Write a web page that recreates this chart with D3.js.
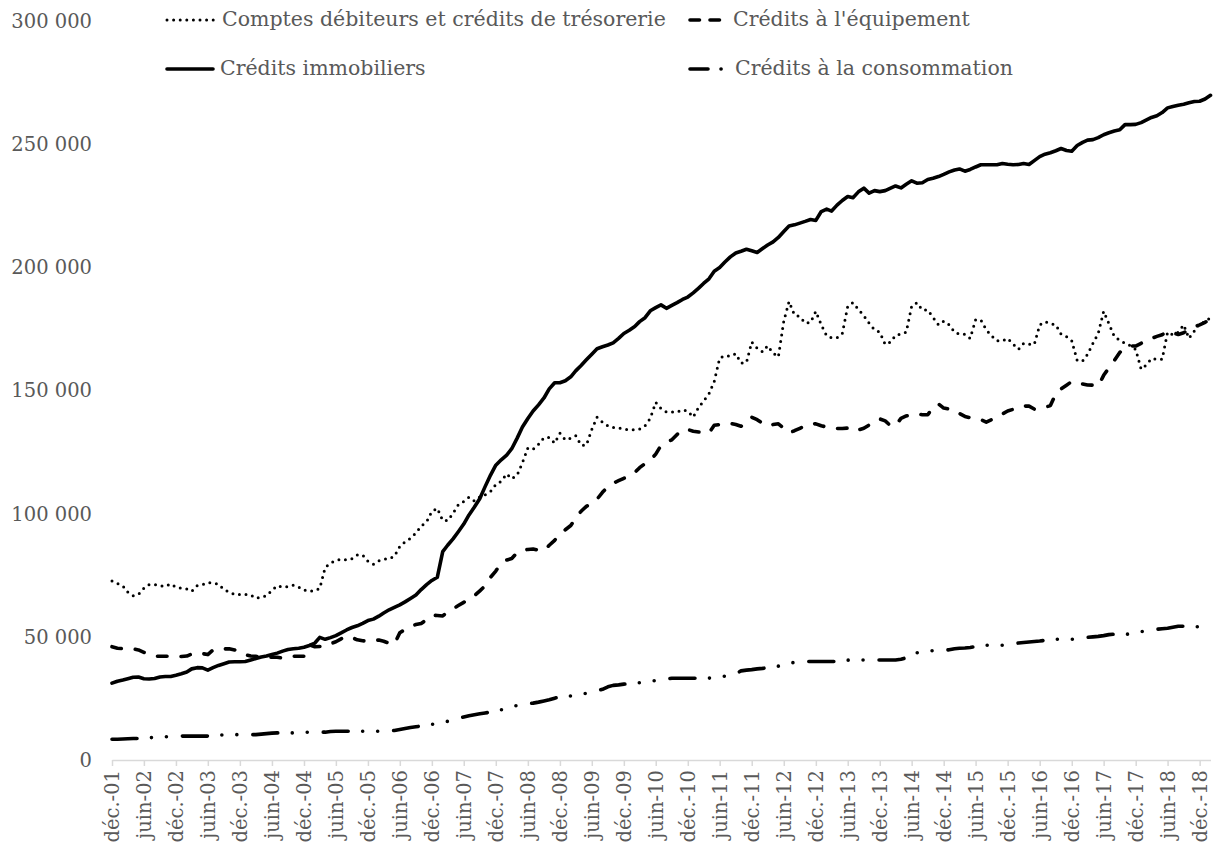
<!DOCTYPE html>
<html>
<head>
<meta charset="utf-8">
<script src="https://cdn.jsdelivr.net/npm/d3@7"></script>
<style>
  body { margin: 0; background: #fff; }
  svg text { font-family: "DejaVu Serif", serif; fill: #595959; }
</style>
</head>
<body>
<svg width="1216" height="847"></svg>
<script>
// monthly outstanding amounts, in thousands, from Dec 2001 to Feb 2019
const tresorerie = [
  72.5, 71.5, 70.5, 68, 66.5, 67, 69.5, 71, 71, 70.5, 70.3, 71.3,
  70, 69.5, 69.2, 68.3, 70.6, 71, 71.8, 71.6, 71.2, 69, 68, 67,
  67, 67, 66.8, 65.5, 66, 66.5, 68.7, 70.6, 70, 70.2, 70.8, 70,
  68.8, 68.3, 68.6, 69.5, 78, 79.8, 80.8, 81.3, 81, 81.5, 83, 83,
  80.5, 79.3, 80.7, 81.3, 81.5, 82.5, 86.5, 88.4, 89.8, 92, 94.8, 96.5,
  100.8, 102, 97, 97, 100, 103.4, 104.8, 106.5, 105, 106.6, 107.5, 108.8,
  111.6, 113, 116, 114, 115.5, 120.5, 126.5, 126, 128, 130.7, 130.8, 128.5,
  132.5, 129.8, 130.5, 131.5, 127.6, 127.6, 134, 139, 137, 135.5, 134.8, 134.6,
  134.2, 133.9, 133.9, 134.2, 135.5, 138.5, 145, 142.5, 141.1, 141.1, 141.1, 142,
  141.5, 139, 143, 145.5, 148.5, 153.5, 163, 164, 163.8, 164.8, 161, 161.2,
  169.5, 167, 165.5, 168, 165, 163.5, 178, 186, 180.5, 179.8, 177.2, 177.5,
  182, 176.5, 172, 171.3, 171.3, 173, 184, 185.5, 182.8, 180.2, 177.2, 174.5,
  173.5, 168.5, 169.5, 172.3, 172.7, 173.5, 184, 185.5, 182.5, 182.5, 179.5, 176.5,
  178, 176.5, 173.5, 172.7, 172.7, 171, 178.5, 178.5, 174.5, 172, 170, 170,
  171, 168.7, 166.6, 169, 168.6, 168.5, 176.5, 177.8, 177, 176.5, 172.7, 171.7,
  170, 162, 161.8, 164.5, 169, 173, 182, 177, 171.8, 170.2, 169, 168,
  166.5, 158.5, 160.3, 162.8, 162.5, 162.5, 173.5, 172.5, 173.5, 176.5, 171, 174,
  177, 177.6, 179.5
];

const equipement = [
  45.8, 45.2, 45, 44.9, 44.9, 44.5, 43.5, 42.8, 42, 41.9, 41.9, 41.9,
  41.9, 41.8, 42, 42.8, 43.3, 43, 42.6, 44.5, 45, 44.9, 45, 44.5,
  43.3, 42.5, 42, 41.9, 41.7, 41.6, 41.5, 41.5, 41.2, 41.6, 41.9, 41.9,
  41.9, 46.5, 45.8, 45.9, 45.9, 47, 47.8, 49, 50, 49.5, 48.6, 48.2,
  48, 48.3, 48.5, 48, 47.2, 46.8, 51.5, 52.8, 54, 54.8, 55.2, 56.8,
  58.6, 58.5, 58.3, 60, 61.2, 62.5, 63.8, 65.3, 66.5, 68.5, 70.5, 74,
  76.5, 79.8, 81, 81.6, 84, 85, 85.3, 85.5, 85, 84.8, 87, 89,
  91.5, 93.3, 95, 98, 100.8, 102.8, 104, 105.7, 108.5, 110.8, 112.2, 113.2,
  114.2, 115, 116.5, 118.5, 120.2, 121.5, 124, 127.5, 128.8, 129.8, 132, 134,
  134, 133.3, 133, 132.8, 132.6, 135.7, 136, 136.3, 136.5, 136, 135.3, 137,
  139, 138, 136.5, 135.4, 136, 136.3, 134.5, 132.6, 133.5, 134.5, 135.5, 136.3,
  136.3, 135.5, 135, 134.6, 134.4, 134.4, 134.6, 133.3, 133.8, 134.5, 135.8, 137,
  138.3, 137.5, 135.5, 135.5, 138.5, 139.5, 140, 140.3, 140, 140, 143, 144.4,
  142.7, 142.3, 142, 140.5, 139.3, 138.8, 138.6, 138, 137, 138, 139.3, 140.3,
  141.5, 142.2, 142.5, 143.5, 143.5, 142.3, 142.5, 143, 143.7, 148.5, 150.5, 152,
  153.5, 153, 152.5, 152.1, 152, 151.6, 156, 159, 162, 165.3, 167, 167.9,
  167.9, 169, 170, 171, 171.8, 172.5, 173.8, 173.3, 172.6, 173.3, 174.5, 175.8,
  176.5, 177.5, 179
];

const immobiliers = [
  31, 31.8, 32.3, 32.8, 33.4, 33.5, 32.8, 32.7, 32.9, 33.5, 33.7, 33.7,
  34.2, 34.8, 35.5, 36.8, 37.3, 37.2, 36.3, 37.3, 38.2, 38.9, 39.6, 39.7,
  39.7, 39.8, 40.4, 41, 41.6, 42, 42.6, 43.2, 44, 44.7, 45, 45.2,
  45.6, 46.3, 47.3, 49.6, 48.8, 49.5, 50.3, 51.4, 52.6, 53.6, 54.3, 55.3,
  56.4, 57, 58.2, 59.5, 60.8, 61.8, 62.8, 64, 65.4, 66.8, 69, 71,
  72.7, 74, 84.4, 87, 89.6, 92.5, 95.6, 99.3, 102.5, 106, 110.8, 115.5,
  119.5, 121.7, 123.6, 126.2, 130.5, 135, 138.5, 141.5, 144, 146.8, 150.5, 153,
  153, 153.8, 155.4, 157.8, 160, 162.3, 164.6, 166.8, 167.6, 168.3, 169.2, 171,
  173, 174.3, 175.8, 177.8, 179.4, 182.2, 183.5, 184.6, 183.2, 184.4, 185.5, 186.8,
  187.8, 189.5, 191.4, 193.3, 195.2, 198.3, 199.8, 202, 204.1, 205.7, 206.4, 207.2,
  206.6, 205.9, 207.5, 208.9, 210.2, 212, 214.4, 216.6, 217.1, 217.8, 218.5, 219.3,
  218.9, 222.5, 223.5, 222.7, 225.1, 227, 228.6, 228.1, 230.5, 232, 230, 231,
  230.6, 231, 232, 232.9, 232.1, 233.6, 235, 234, 234.2, 235.5, 236, 236.7,
  237.6, 238.6, 239.4, 239.8, 238.9, 239.6, 240.6, 241.5, 241.5, 241.5, 241.5, 242,
  241.7, 241.5, 241.6, 242, 241.6, 243.2, 244.8, 245.8, 246.4, 247.2, 248.1, 247.3,
  247, 249.3, 250.6, 251.5, 251.7, 252.5, 253.7, 254.5, 255.2, 255.7, 257.8, 257.8,
  257.9, 258.6, 259.7, 260.7, 261.4, 262.7, 264.6, 265.2, 265.7, 266.1, 266.7, 267.2,
  267.3, 268.2, 269.7
];

const consommation = [
  8.2, 8.2, 8.3, 8.4, 8.5, 8.5, 8.6, 8.8, 9, 9.2, 9.2, 9.3,
  9.4, 9.5, 9.5, 9.5, 9.5, 9.5, 9.5, 9.6, 9.8, 10, 10.1, 10.1,
  10.1, 10.1, 10.1, 10.1, 10.3, 10.5, 10.7, 10.8, 10.8, 10.8, 10.8, 10.8,
  11, 11.1, 11.1, 11.1, 11.1, 11.4, 11.5, 11.5, 11.5, 11.5, 11.5, 11.5,
  11.5, 11.5, 11.5, 11.5, 11.5, 11.8, 12.2, 12.6, 13, 13.3, 13.6, 14,
  14.3, 14.6, 15, 15.5, 15.9, 16.6, 17.3, 17.8, 18.2, 18.6, 18.9, 19.2,
  19.6, 20.2, 20.7, 21.3, 22, 22.5, 22.7, 22.9, 23.3, 23.8, 24.3, 24.9,
  25.4, 25.6, 25.8, 26, 26.5, 26.9, 27.3, 27.9, 28.5, 29.5, 30.1, 30.3,
  30.6, 30.8, 31, 31.2, 31.4, 31.6, 32.1, 32.4, 32.7, 33, 33, 33,
  33, 33, 33, 33, 33, 33.5, 33.6, 33.8, 34, 34.8, 36, 36.3,
  36.5, 36.8, 37, 37.3, 37.6, 37.9, 38.3, 38.9, 39.5, 39.8, 39.8, 39.8,
  39.8, 39.8, 39.8, 39.8, 39.8, 39.8, 40.3, 40.7, 40.6, 40.4, 40.4, 40.4,
  40.4, 40.4, 40.4, 40.4, 40.7, 41.3, 42.3, 43.3, 43.7, 44, 44.2, 44.2,
  44.2, 44.6, 45, 45.2, 45.3, 45.5, 45.8, 46.1, 46.4, 46.4, 46.4, 46.4,
  46.7, 47, 47.3, 47.5, 47.7, 47.9, 48.1, 48.4, 48.6, 48.8, 48.8, 48.8,
  48.8, 49.1, 49.4, 49.6, 49.8, 50, 50.3, 50.7, 50.9, 50.9, 50.9, 50.9,
  51.4, 51.9, 52.2, 52.6, 52.9, 53.1, 53.3, 53.7, 54.1, 54.1, 54, 53.9,
  53.9, 54, 54.1
];

const xTickLabels = [
  "déc.-01", "juin-02", "déc.-02", "juin-03", "déc.-03", "juin-04", "déc.-04",
  "juin-05", "déc.-05", "juin-06", "déc.-06", "juin-07", "déc.-07", "juin-08",
  "déc.-08", "juin-09", "déc.-09", "juin-10", "déc.-10", "juin-11", "déc.-11",
  "juin-12", "déc.-12", "juin-13", "déc.-13", "juin-14", "déc.-14", "juin-15",
  "déc.-15", "juin-16", "déc.-16", "juin-17", "déc.-17", "juin-18", "déc.-18"
];
const yTicks = [0, 50, 100, 150, 200, 250, 300];

const svg = d3.select("svg");

const firstMonth = new Date(2001, 11, 1);
const months = tresorerie.map((_, i) => d3.timeMonth.offset(firstMonth, i));

const x = d3.scaleTime()
  .domain([months[0], months[months.length - 1]])
  .range([112, 1210.5]);
const y = d3.scaleLinear().domain([0, 300]).range([759.5, 20.7]);

const fr = d3.formatLocale({ decimal: ",", thousands: "\u00a0", grouping: [3], currency: ["", " €"] });
const fmt = fr.format(",d");

// y axis: labels only
const yAxis = svg.append("g")
  .attr("transform", "translate(112,0)")
  .call(d3.axisLeft(y).tickValues(yTicks).tickSize(0).tickPadding(20).tickFormat((d) => fmt(d * 1000)));
yAxis.select(".domain").remove();
yAxis.selectAll("text")
  .attr("font-family", "DejaVu Serif")
  .attr("font-size", "19.5px")
  .attr("fill", "#595959")
  .attr("dy", "0.35em");

// x axis, one tick every 6 months
const tickDates = months.filter((d, i) => i % 6 === 0).slice(0, xTickLabels.length);
const xAxis = svg.append("g")
  .attr("transform", "translate(0,760)")
  .call(d3.axisBottom(x).tickValues(tickDates).tickSize(6).tickSizeOuter(0)
    .tickFormat((d, i) => xTickLabels[i]));
xAxis.select(".domain").attr("stroke", "#d9d9d9").attr("stroke-width", 1.5);
xAxis.selectAll(".tick line").attr("stroke", "#d9d9d9").attr("stroke-width", 1.5);
xAxis.selectAll("text")
  .attr("font-family", "DejaVu Serif")
  .attr("font-size", "19.5px")
  .attr("fill", "#595959")
  .attr("text-anchor", "end")
  .attr("transform", "rotate(-90)")
  .attr("x", -10)
  .attr("y", 0)
  .attr("dy", "0.35em");

const line = d3.line()
  .x((d, i) => x(months[i]))
  .y((d) => y(d));

const series = [
  { name: "Comptes débiteurs et crédits de trésorerie", values: tresorerie,
    width: 3, dash: "0 6.6", legendDash: "0 6.6" },
  { name: "Crédits à l'équipement", values: equipement,
    width: 3.6, dash: "9.5 14", legendDash: "9.5 10.5" },
  { name: "Crédits immobiliers", values: immobiliers,
    width: 3.6, dash: null, legendDash: null },
  { name: "Crédits à la consommation", values: consommation,
    width: 3.6, dash: "25 14.5 0 15 0 16", legendDash: "18 13 0.1 100" }
];

svg.append("g")
  .selectAll("path")
  .data(series)
  .enter()
  .append("path")
  .attr("d", (s) => line(s.values))
  .attr("fill", "none")
  .attr("stroke", "#000")
  .attr("stroke-width", (s) => s.width)
  .attr("stroke-linecap", "round")
  .attr("stroke-linejoin", "round")
  .attr("stroke-dasharray", (s) => s.dash);

// legend, two rows of two
const legendPos = [
  { x1: 167, x2: 215, tx: 222, cy: 20 },
  { x1: 690, x2: 721, tx: 733, cy: 20 },
  { x1: 167, x2: 213, tx: 220, cy: 69 },
  { x1: 690, x2: 724, tx: 735, cy: 69 }
];

const legend = svg.append("g")
  .selectAll("g")
  .data(series)
  .enter()
  .append("g");

legend.append("line")
  .attr("x1", (s, i) => legendPos[i].x1)
  .attr("x2", (s, i) => legendPos[i].x2)
  .attr("y1", (s, i) => legendPos[i].cy)
  .attr("y2", (s, i) => legendPos[i].cy)
  .attr("stroke", "#000")
  .attr("stroke-width", (s) => s.width)
  .attr("stroke-linecap", "round")
  .attr("stroke-dasharray", (s) => s.legendDash);

legend.append("text")
  .attr("x", (s, i) => legendPos[i].tx)
  .attr("y", (s, i) => legendPos[i].cy)
  .attr("dy", "0.3em")
  .attr("font-size", "20.5px")
  .text((s) => s.name);
</script>
</body>
</html>
